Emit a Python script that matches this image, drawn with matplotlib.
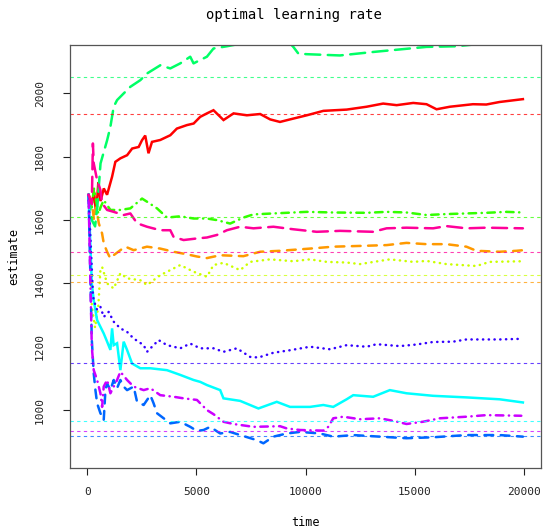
import numpy as np
import matplotlib
matplotlib.use("Agg")
from matplotlib import pyplot as plt

# colores rainbow(10) de R y valores de referencia (abline)
colores = ["#FF0000", "#FF9900", "#CCFF00", "#33FF00", "#00FF66",
           "#00FFFF", "#0066FF", "#3300FF", "#CC00FF", "#FF0099"]
referencia = [1935, 1404, 1426, 1609, 2051, 965, 918, 1149, 934, 1499]

red_t = [50, 200, 300, 400, 500, 600, 750, 900, 1130, 1280, 1510, 1820, 2050, 2350, 2500, 2650, 2800, 2960,
         3340, 3800, 4100, 4560, 4870, 5170, 5480, 5780, 6240, 6700, 7310, 7920, 8380, 8830, 9290, 10060,
         10820, 11890, 12800, 13560, 14180, 14940, 15550, 16010, 16620, 17680, 18290, 18900, 19970]
red_v = [1680, 1650, 1690, 1620, 1720, 1660, 1700, 1680, 1737, 1784, 1795, 1805, 1826, 1831, 1852, 1867, 1811, 1847,
         1853, 1868, 1889, 1900, 1905, 1926, 1937, 1947, 1916, 1937, 1931, 1935, 1918, 1910, 1918, 1931,
         1945, 1949, 1958, 1968, 1963, 1970, 1966, 1950, 1958, 1966, 1965, 1973, 1982]

orange_t = [50, 200, 300, 400, 520, 670, 750, 900, 1050, 1200, 1510, 1740, 2120, 2730, 3340, 3950, 4560, 5020,
            5480, 6090, 7150, 7920, 8830, 10210, 11270, 12800, 13720, 14630, 15550, 16460, 17380, 17840, 18900,
            19670, 20000]
orange_v = [1680, 1660, 1600, 1640, 1590, 1558, 1526, 1500, 1479, 1489, 1505, 1516, 1505, 1516, 1510, 1500, 1492, 1485,
            1480, 1489, 1486, 1500, 1503, 1510, 1516, 1519, 1521, 1528, 1524, 1524, 1516, 1503, 1500,
            1503, 1505]

yg_t = [50, 200, 350, 500, 595, 673, 902, 1204, 1510, 1817, 2426, 2732, 3341, 4257, 4865, 5479, 5781, 6238,
        7003, 7460, 8376, 9442, 10207, 10971, 11886, 12495, 13868, 14935, 15548, 16463, 17837, 18446, 19970]
yg_v = [1680, 1330, 1260, 1330, 1442, 1452, 1400, 1384, 1432, 1416, 1410, 1395, 1426, 1458, 1437, 1421, 1458, 1465,
        1442, 1468, 1476, 1470, 1476, 1468, 1466, 1461, 1476, 1468, 1471, 1461, 1455, 1468, 1470]

g4_t = [50, 200, 300, 400, 500, 600, 746, 1053, 1510, 1968, 2504, 2732, 3190, 3648, 4257, 4865, 5479, 5936,
        6545, 7154, 7612, 8527, 10056, 11273, 12802, 13718, 14633, 15548, 16463, 17379, 18294, 19210, 19970]
g4_v = [1680, 1640, 1700, 1660, 1620, 1640, 1663, 1632, 1632, 1637, 1668, 1658, 1637, 1608, 1612, 1605, 1605, 1600,
        1589, 1608, 1618, 1621, 1626, 1624, 1623, 1626, 1624, 1616, 1619, 1621, 1623, 1626, 1624]

g5_t = [50, 200, 350, 450, 600, 902, 1053, 1204, 1359, 1661, 1968, 2426, 2732, 3341, 3799, 4257, 4714, 4865,
        5479, 5781, 6394, 6852, 7500, 8500, 9200, 9442, 9671, 10056, 11580, 13104, 14326, 15548, 16920,
        18500, 20000]
g5_v = [1680, 1600, 1580, 1640, 1779, 1852, 1895, 1958, 1979, 2000, 2021, 2042, 2063, 2089, 2079, 2095, 2116, 2095,
        2116, 2142, 2149, 2155, 2165, 2170, 2165, 2147, 2126, 2124, 2120, 2131, 2139, 2147, 2149,
        2160, 2168]

cy_t = [50, 200, 288, 444, 595, 746, 902, 1053, 1130, 1204, 1359, 1510, 1661, 1817, 2046, 2426, 2884, 3648,
        4257, 4865, 5172, 5479, 6087, 6238, 7003, 7840, 8682, 9291, 10207, 10816, 11273, 11886, 12190,
        13104, 13868, 14633, 15851, 17379, 18903, 19970]
cy_v = [1680, 1400, 1347, 1284, 1263, 1242, 1216, 1190, 1258, 1205, 1211, 1126, 1216, 1190, 1147, 1132, 1132, 1126,
        1111, 1095, 1089, 1079, 1063, 1037, 1029, 1005, 1026, 1010, 1010, 1016, 1010, 1034, 1047,
        1042, 1063, 1053, 1045, 1040, 1034, 1024]

bl_t = [50, 200, 288, 366, 444, 595, 746, 825, 902, 1053, 1204, 1359, 1510, 1661, 1817, 2119, 2275, 2577, 2884,
        3035, 3190, 3495, 3799, 4257, 4714, 5021, 5326, 5630, 6087, 6545, 7003, 7767, 8069, 8527, 9140,
        9749, 10664, 11273, 12190, 13410, 14633, 15851, 17379, 18903, 19970]
bl_v = [1680, 1221, 1116, 1063, 1021, 990, 968, 1063, 1084, 1063, 1095, 1069, 1095, 1074, 1063, 1074, 1026, 1016, 1047,
        1021, 990, 974, 958, 963, 947, 934, 937, 947, 926, 931, 921, 905, 895, 916, 926,
        931, 926, 916, 921, 916, 911, 914, 921, 921, 916]

pu_t = [50, 250, 288, 444, 595, 746, 975, 1204, 1510, 1817, 2119, 2577, 2732, 3263, 3648, 4257, 4714, 5172,
        5781, 6238, 6852, 7460, 7840, 8527, 9291, 10207, 11122, 11886, 12802, 13260, 14326, 15090, 15851,
        16765, 17379, 18903, 19896]
pu_v = [1680, 1368, 1347, 1316, 1326, 1294, 1310, 1279, 1258, 1247, 1226, 1205, 1184, 1221, 1205, 1195, 1210, 1195,
        1195, 1184, 1195, 1168, 1166, 1181, 1189, 1200, 1192, 1205, 1200, 1208, 1202, 1207, 1215,
        1216, 1223, 1223, 1225]

mg_t = [50, 200, 288, 444, 595, 673, 746, 902, 1053, 1204, 1359, 1510, 1817, 2119, 2577, 2884, 3341, 3950,
        4408, 5021, 5479, 5781, 6238, 6696, 7612, 8834, 9138, 9749, 10816, 11045, 11273, 11730, 12495,
        13410, 14019, 14633, 15379, 16157, 17379, 18294, 19896]
mg_v = [1680, 1200, 1126, 1095, 1053, 1010, 1074, 1095, 1053, 1074, 1095, 1121, 1095, 1074, 1063, 1069, 1047, 1042,
        1037, 1032, 1000, 987, 963, 956, 947, 949, 942, 937, 935, 947, 974, 979, 971,
        974, 966, 956, 963, 974, 979, 984, 982]

pk_t = [50, 200, 250, 288, 444, 595, 673, 902, 1204, 1661, 1968, 2275, 2732, 3341, 3799, 3950, 4408, 5021,
        5479, 5936, 6394, 7003, 7612, 8527, 9442, 10514, 11580, 13104, 13718, 14633, 15851, 16463, 17379,
        18294, 19970]
pk_v = [1680, 1650, 1842, 1779, 1726, 1695, 1653, 1632, 1626, 1616, 1621, 1590, 1579, 1568, 1568, 1547, 1537, 1542,
        1545, 1553, 1568, 1579, 1574, 1579, 1571, 1563, 1566, 1563, 1574, 1576, 1574, 1581, 1574,
        1576, 1574]

series = [(red_t, red_v), (orange_t, orange_v), (yg_t, yg_v), (g4_t, g4_v), (g5_t, g5_v),
          (cy_t, cy_v), (bl_t, bl_v), (pu_t, pu_v), (mg_t, mg_v), (pk_t, pk_v)]

# lty 1:5 de matplot
estilos = ["-", (0, (3.5, 3)), (0, (0.1, 2.2)), (0, (0.1, 2.2, 3, 2.2)), (0, (6, 3))]

plt.rcParams['font.family'] = 'DejaVu Sans Mono'
fig = plt.figure(figsize=(5.43, 5.32), dpi=100)
ax = fig.add_axes([70/543, 64/532, 471/543, 423/532])

for i, (t, v) in enumerate(series):
    ax.plot(t, v, color=colores[i], lw=1.8, linestyle=estilos[i % 5],
            dash_capstyle='round', solid_joinstyle='miter')

for i, r in enumerate(referencia):
    ax.axhline(r, color=colores[i], lw=0.8, linestyle=(0, (3, 3)), alpha=0.75)

ax.set_xlim(-800, 20800)
ax.set_ylim(817, 2153)
ax.set_xticks([0, 5000, 10000, 15000, 20000])
ax.set_yticks([1000, 1200, 1400, 1600, 1800, 2000])
ax.tick_params(direction='out', length=5, width=0.8, labelsize=8, colors='#222222')
ax.tick_params(axis='x', pad=9)
ax.tick_params(axis='y', pad=13)
for lab in ax.get_yticklabels():
    lab.set_rotation(90)
    lab.set_va('center')
for s in ax.spines.values():
    s.set_color('#555555')
    s.set_linewidth(0.9)

ax.set_xlabel("time", fontsize=8.5)
ax.set_ylabel("estimate", fontsize=8.5)
ax.xaxis.set_label_coords(0.5, -0.114)
ax.yaxis.set_label_coords(-0.106, 0.5)
fig.text(294/543, 1 - 15/532, "optimal learning rate", ha='center', va='center', fontsize=10)

fig.savefig("out.png", dpi=100)
